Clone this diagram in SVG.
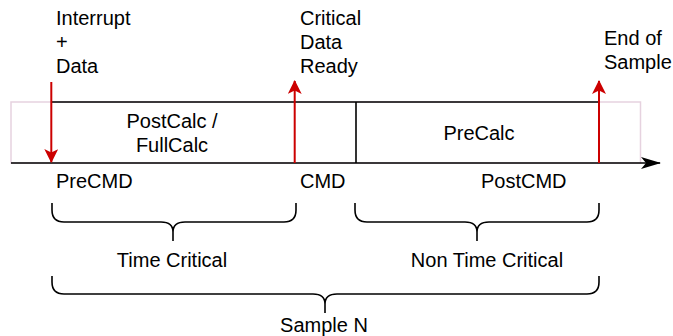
<svg xmlns="http://www.w3.org/2000/svg" width="673" height="336" viewBox="0 0 673 336">
  <defs>
    <style>
      text { font-family: "Liberation Sans", Arial, sans-serif; font-size: 20px; fill: #000; }
      .mid { text-anchor: middle; }
      .line { stroke: #000; stroke-width: 1.6; fill: none; }
      .red { stroke: #CC0000; stroke-width: 2; fill: none; }
      .brace { stroke: #000; stroke-width: 1.6; fill: none; }
    </style>
    <marker id="redHead" viewBox="0 0 14 14" markerWidth="14" markerHeight="14" refX="13" refY="7" orient="auto" markerUnits="userSpaceOnUse">
      <path d="M0,0 L14,7 L0,14 L3.5,7 Z" fill="#CC0000"/>
    </marker>
    <marker id="blackHead" viewBox="0 0 20 14" markerWidth="20" markerHeight="14" refX="19" refY="7" orient="auto" markerUnits="userSpaceOnUse">
      <path d="M0,1 L20,7 L0,13 L5,7 Z" fill="#000"/>
    </marker>
  </defs>

  <!-- sample frame -->
  <rect id="frame" x="11" y="102" width="629.5" height="61" fill="none" stroke="#E6D2DF" stroke-width="1.5"/>

  <!-- processing blocks -->
  <g id="postcalc">
    <text class="mid" x="172" y="128">PostCalc /</text>
    <text class="mid" x="172" y="152">FullCalc</text>
  </g>
  <g id="precalc">
    <text class="mid" x="479" y="140">PreCalc</text>
  </g>

  <g id="connectors">
    <!-- top edge of blocks -->
    <line class="line" x1="51" y1="102" x2="599" y2="102"/>
    <!-- divider between CMD and PreCalc -->
    <line class="line" x1="356" y1="102" x2="356" y2="163"/>
    <!-- time axis -->
    <line class="line" x1="11" y1="163" x2="660" y2="163" marker-end="url(#blackHead)"/>
    <!-- events -->
    <line class="red" x1="51.3" y1="82" x2="51.3" y2="162" marker-end="url(#redHead)"/>
    <line class="red" x1="294.7" y1="163" x2="294.7" y2="81" marker-end="url(#redHead)"/>
    <line class="red" x1="599" y1="163" x2="599" y2="81" marker-end="url(#redHead)"/>
  </g>

  <!-- event labels -->
  <g id="interrupt">
    <text x="56" y="25">Interrupt</text>
    <text x="56" y="49">+</text>
    <text x="56" y="73">Data</text>
  </g>
  <g id="critical-data-ready">
    <text x="300" y="25">Critical</text>
    <text x="300" y="49">Data</text>
    <text x="300" y="73">Ready</text>
  </g>
  <g id="end-of-sample">
    <text x="604" y="45">End of</text>
    <text x="604" y="69">Sample</text>
  </g>

  <!-- phase labels -->
  <g id="phases">
    <text x="56" y="188">PreCMD</text>
    <text x="300" y="188">CMD</text>
    <text x="481" y="188">PostCMD</text>
  </g>

  <!-- braces -->
  <g id="time-critical">
    <path class="brace" d="M52,203 V210 Q52,222 64,222 H161 Q173,222 173,232 V241 M173,232 Q173,222 185,222 H284 Q296,222 296,210 V203"/>
    <text class="mid" x="172" y="267">Time Critical</text>
  </g>
  <g id="non-time-critical">
    <path class="brace" d="M355,203 V210 Q355,222 367,222 H465 Q477,222 477,232 V241 M477,232 Q477,222 489,222 H587 Q599,222 599,210 V203"/>
    <text class="mid" x="487" y="267">Non Time Critical</text>
  </g>
  <g id="sample-n">
    <path class="brace" d="M52,276 V282 Q52,294 64,294 H313 Q325,294 325,304 V313 M325,304 Q325,294 337,294 H587 Q599,294 599,282 V276"/>
    <text class="mid" x="324" y="332">Sample N</text>
  </g>
</svg>
